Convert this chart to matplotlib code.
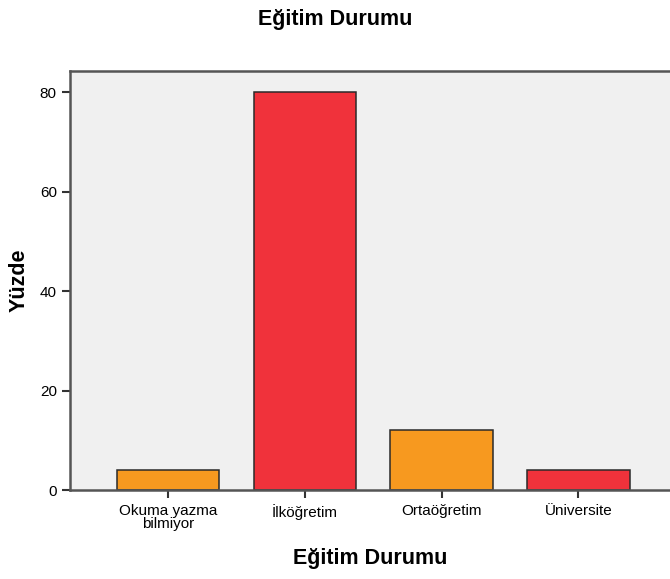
import matplotlib
matplotlib.use("Agg")
import matplotlib.pyplot as plt

# Eğitim Durumu - yüzde dağılımı
categories = ["Okuma yazma\nbilmiyor", "İlköğretim", "Ortaöğretim", "Üniversite"]
percents = [4, 80, 12, 4]
bar_colors = ["#F7991F", "#F0323B", "#F7991F", "#F0323B"]
y_ticks = [0, 20, 40, 60, 80]

plt.rcParams['font.family'] = ['Liberation Sans', 'DejaVu Sans']

fig = plt.figure(figsize=(6.7, 5.79), dpi=100)
ax = fig.add_axes([0.1045, 0.1537, 0.8955, 0.7233])
ax.set_facecolor("#F0F0F0")

x = range(len(categories))
ax.bar(x, percents, width=0.75, color=bar_colors, edgecolor="#2a2a2a", linewidth=1.1, zorder=2)

ax.set_xlim(-0.717, 3.67)
ax.set_ylim(0, 84.2)
ax.set_xticks(list(x))
ax.set_xticklabels(categories, fontsize=11, linespacing=0.95)
ax.set_yticks(y_ticks)
ax.tick_params(axis="both", direction="out", length=6, width=1.5, color="#333333", labelsize=11)
ax.tick_params(axis="x", pad=4)

for side in ["left", "bottom", "top"]:
    ax.spines[side].set_color("#555555")
    ax.spines[side].set_linewidth(1.8)
ax.spines["right"].set_visible(False)

ax.set_ylabel("Yüzde", fontsize=15.5, fontweight="bold", labelpad=7)
ax.set_xlabel("Eğitim Durumu", fontsize=15.5, fontweight="bold", labelpad=12)
fig.text(0.5, 0.967, "Eğitim Durumu", ha="center", va="center", fontsize=15.5, fontweight="bold")

fig.savefig("out.png", dpi=100)
